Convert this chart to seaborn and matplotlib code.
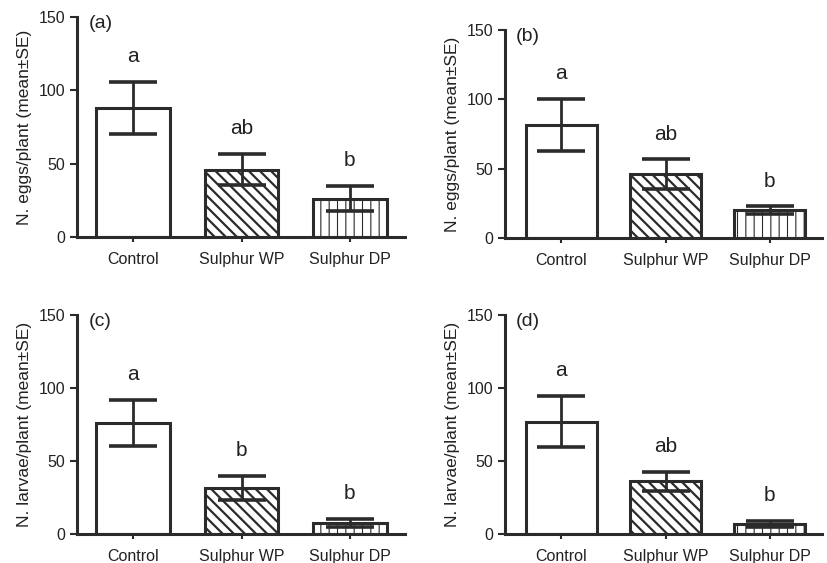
import matplotlib
matplotlib.use("Agg")
import matplotlib.pyplot as plt
import seaborn as sns
import pandas as pd

sns.set_theme(style="ticks")
plt.rcParams['font.family'] = ['Liberation Sans', 'DejaVu Sans']
plt.rcParams['hatch.linewidth'] = 1.6

treatments = ["Control", "Sulphur WP", "Sulphur DP"]
panel_tags = ["(a)", "(b)", "(c)", "(d)"]
ylabels = ["N. eggs/plant (mean\u00b1SE)", "N. eggs/plant (mean\u00b1SE)",
           "N. larvae/plant (mean\u00b1SE)", "N. larvae/plant (mean\u00b1SE)"]
means_a = [88, 46, 26]
se_a = [17.5, 10.5, 8.5]
letters_a = ["a", "ab", "b"]
means_b = [81.5, 46, 20]
se_b = [19, 11, 3]
letters_b = ["a", "ab", "b"]
means_c = [76, 31.5, 7.5]
se_c = [15.5, 8.2, 2.5]
letters_c = ["a", "b", "b"]
means_d = [77, 36, 7]
se_d = [17.7, 6.7, 2]
letters_d = ["a", "ab", "b"]
yticks = [0, 50, 100, 150]

means_all = [means_a, means_b, means_c, means_d]
se_all = [se_a, se_b, se_c, se_d]
letters_all = [letters_a, letters_b, letters_c, letters_d]

fig = plt.figure(figsize=(8.27, 5.63), dpi=100)
W, H = 827, 563
boxes = [(77, 405, 17, 237), (505, 822, 30, 238), (77, 405, 315, 534), (505, 822, 315, 534)]
xlims = [(-0.52, 2.51), (-0.54, 2.5), (-0.52, 2.51), (-0.54, 2.5)]
hatches = ["", "\\\\\\", "||"]
ec = "#2b2b2b"

for i in range(4):
    l, r, t, b = boxes[i]
    ax = fig.add_axes([l / W, 1 - b / H, (r - l) / W, (b - t) / H])
    df = pd.DataFrame({"Treatment": treatments, "Mean": means_all[i]})
    sns.barplot(data=df, x="Treatment", y="Mean", ax=ax, color="white",
                edgecolor=ec, linewidth=2.2, width=0.68, errorbar=None)
    for j, (p, h) in enumerate(zip(ax.patches, hatches)):
        p.set_hatch(h)
        p.set_facecolor("white")
        p.set_edgecolor(ec)
        if j == 2 and hasattr(p, "set_hatch_linewidth"):
            p.set_hatch_linewidth(0.8)
    xs = [p.get_x() + p.get_width() / 2 for p in ax.patches]
    ax.errorbar(xs, means_all[i], yerr=se_all[i], fmt="none", ecolor=ec,
                elinewidth=2.0, capsize=17, capthick=2.6, zorder=5)
    for x, m, s, lt in zip(xs, means_all[i], se_all[i], letters_all[i]):
        ax.text(x, m + s + 11, lt, ha="center", va="bottom", fontsize=15, color="#222222")
    ax.set_ylim(0, 150)
    ax.set_xlim(*xlims[i])
    ax.set_yticks(yticks)
    ax.set_xlabel("")
    ax.set_ylabel(ylabels[i], fontsize=12.5, color="#222222", labelpad=5)
    ax.tick_params(axis="both", colors=ec, labelcolor="#222222", labelsize=11.5,
                   width=1.5, length=5, direction="out")
    ax.tick_params(axis="x", direction="inout", length=7, pad=7)
    for sp in ["top", "right"]:
        ax.spines[sp].set_visible(False)
    for sp in ["left", "bottom"]:
        ax.spines[sp].set_linewidth(2.2)
        ax.spines[sp].set_color(ec)
    ax.text(0.035, 0.97, panel_tags[i], transform=ax.transAxes, ha="left", va="center",
            fontsize=14, color="#222222")

fig.savefig("out.png", dpi=100)
